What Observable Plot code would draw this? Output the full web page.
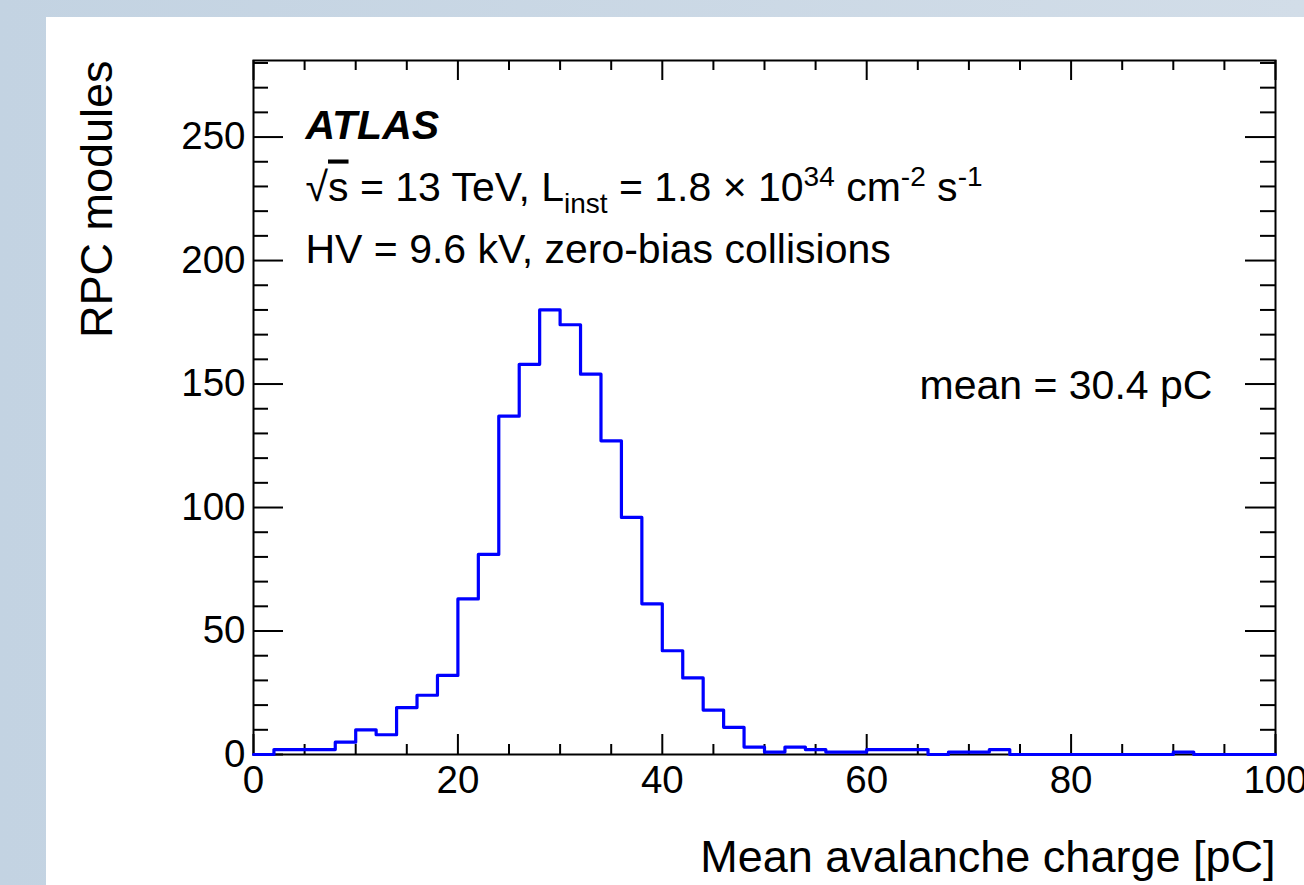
<!DOCTYPE html>
<html><head><meta charset="utf-8">
<script src="https://cdn.jsdelivr.net/npm/d3@7"></script>
<script src="https://cdn.jsdelivr.net/npm/@observablehq/plot@0.6"></script>
<style>
html,body{margin:0;padding:0;width:1304px;height:885px;overflow:hidden;}
body{background:linear-gradient(to right,#c3d3e2,#d2dde8);position:relative;font-family:"Liberation Sans",Arial,sans-serif;}
#panel{position:absolute;left:46px;top:17px;right:0;bottom:0;background:#fff;}
#chart{position:absolute;left:0;top:0;}
</style></head><body><div id="panel"></div><div id="chart"></div>
<script>
// Histogram bins (lower edges, width 2 pC) and counts
const binLow = [0,2,4,6,8,10,12,14,16,18,20,22,24,26,28,30,32,34,36,38,40,42,44,46,48,
                50,52,54,56,58,60,62,64,66,68,70,72,74,76,78,80,82,84,86,88,90,92,94,96,98];
const counts = [0,2,2,2,5,10,8,19,24,32,63,81,137,158,180,174,154,127,96,61,42,31,18,11,3,
                1,3,2,1,1,2,2,2,0,1,1,2,0,0,0,0,0,0,0,0,1,0,0,0,0];
const xUpper = 100;
const xMajor = [0,20,40,60,80,100];
const xMinor = [5,10,15,25,30,35,45,50,55,65,70,75,85,90,95];
const yMajor = [0,50,100,150,200,250];
const yMinor = [10,20,30,40,60,70,80,90,110,120,130,140,160,170,180,190,210,220,230,240,260,270,280];
const yMax = 281;

const xTitle = "Mean avalanche charge [pC]";
const yTitle = "RPC modules";
const atlasLabel = "ATLAS";
const lumiLabel = "LUMI_PLACEHOLDER";
const hvLabel = "HV = 9.6 kV, zero-bias collisions";
const meanLabel = "mean = 30.4 pC";

const pts = binLow.map((x, i) => ({x, y: counts[i]}));
pts.push({x: xUpper, y: counts[counts.length - 1]});

const W = 1304, H = 885, mL = 253, mR = 29, mT = 60, mB = 131;
const fw = W - mL - mR, fh = H - mT - mB;
const ink = "black";

const svg = Plot.plot({
  width: W, height: H,
  marginLeft: mL, marginRight: mR, marginTop: mT, marginBottom: mB,
  x: {domain: [0, 100]},
  y: {domain: [0, yMax]},
  style: {background: "transparent", color: ink, fontFamily: "'Liberation Sans', Arial, sans-serif"},
  marks: [
    Plot.tickY(yMajor, {y: d => d, insetRight: fw - 30, stroke: ink, strokeWidth: 2}),
    Plot.tickY(yMajor, {y: d => d, insetLeft: fw - 30, stroke: ink, strokeWidth: 2}),
    Plot.tickY(yMinor, {y: d => d, insetRight: fw - 15, stroke: ink, strokeWidth: 2}),
    Plot.tickY(yMinor, {y: d => d, insetLeft: fw - 15, stroke: ink, strokeWidth: 2}),
    Plot.tickX(xMajor, {x: d => d, insetTop: fh - 20, stroke: ink, strokeWidth: 2}),
    Plot.tickX(xMajor, {x: d => d, insetBottom: fh - 20, stroke: ink, strokeWidth: 2}),
    Plot.tickX(xMinor, {x: d => d, insetTop: fh - 10, stroke: ink, strokeWidth: 2}),
    Plot.tickX(xMinor, {x: d => d, insetBottom: fh - 10, stroke: ink, strokeWidth: 2}),
    Plot.frame({stroke: ink, strokeWidth: 2}),
    Plot.line(pts, {x: "x", y: "y", curve: "step-after", stroke: "#0000ff", strokeWidth: 3.2}),
    Plot.axisX({ticks: xMajor, tickSize: 0, tickPadding: 11, fontSize: 38.5, label: null}),
    Plot.axisY({ticks: yMajor, tickSize: 0, tickPadding: 8, fontSize: 38.5, label: null}),
    Plot.text([yTitle], {frameAnchor: "top-left", dx: -156, dy: 0, rotate: -90, textAnchor: "end", lineAnchor: "middle", fontSize: 45, fill: ink}),
    Plot.text([xTitle], {frameAnchor: "bottom-right", dx: 0, dy: 117, textAnchor: "end", lineAnchor: "bottom", fontSize: 45, fill: ink}),
    Plot.text([atlasLabel], {frameAnchor: "top-left", dx: 52, dy: 78, textAnchor: "start", lineAnchor: "bottom", fontSize: 41, fontWeight: "bold", fontStyle: "italic", fill: ink}),
    Plot.text([lumiLabel], {frameAnchor: "top-left", dx: 52, dy: 140, textAnchor: "start", lineAnchor: "bottom", fontSize: 41, fill: ink}),
    Plot.text([hvLabel], {frameAnchor: "top-left", dx: 52, dy: 202, textAnchor: "start", lineAnchor: "bottom", fontSize: 41, fill: ink}),
    Plot.text([meanLabel], {frameAnchor: "top-left", dx: 666, dy: 338, textAnchor: "start", lineAnchor: "bottom", fontSize: 41, fill: ink})
  ]
});

// Rich text (sub/superscripts) for the luminosity line
const lumi = d3.select(svg).selectAll("text").filter(function() { return this.textContent === lumiLabel; });
lumi.text(null).style("white-space", "pre");
const big = 41, small = 28;
const segs = [
  {t: "√", s: 0, f: big},
  {t: "s", s: 0, f: big, over: true},
  {t: " = 13 TeV, L", s: 0, f: big},
  {t: "inst", s: 12, f: small},
  {t: " = 1.8 × 10", s: 0, f: big},
  {t: "34", s: -15, f: small},
  {t: " cm", s: 0, f: big},
  {t: "-2", s: -15, f: small},
  {t: " s", s: 0, f: big},
  {t: "-1", s: -15, f: small}
];
let cur = 0;
for (const g of segs) {
  lumi.append("tspan").attr("dy", g.s - cur).attr("font-size", g.f)
    .style("text-decoration", g.over ? "overline" : null).text(g.t);
  cur = g.s;
}

document.getElementById("chart").appendChild(svg);
</script>
</body></html>
